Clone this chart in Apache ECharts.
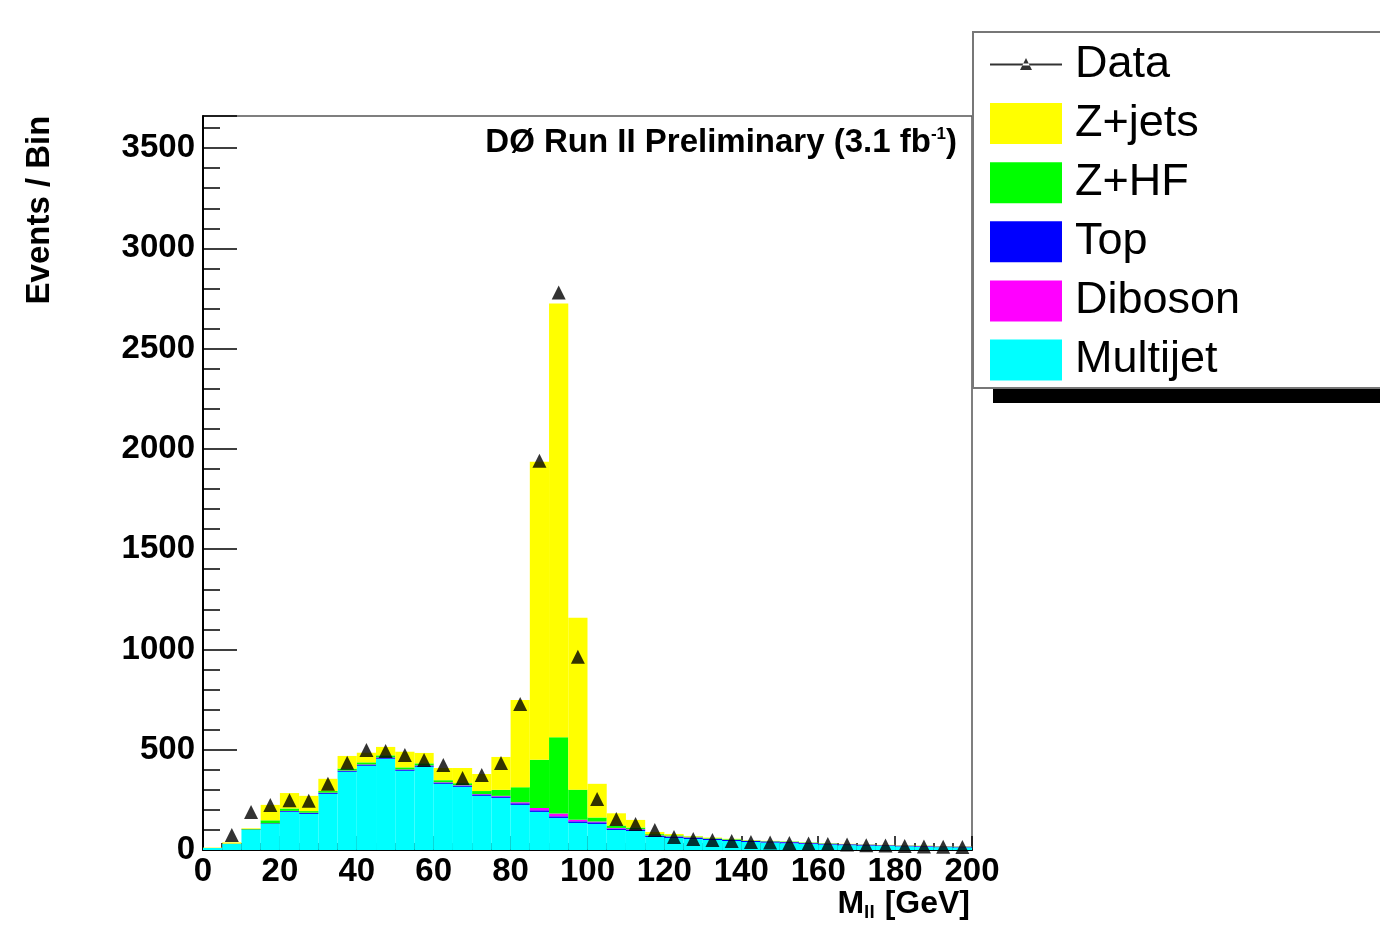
<!DOCTYPE html>
<html>
<head>
<meta charset="utf-8">
<title>M_ll</title>
<script src="https://cdn.jsdelivr.net/npm/echarts@6/dist/echarts.min.js"></script>
<style>
  html, body { margin: 0; padding: 0; background: #fff; }
  #massChart { width: 1380px; height: 927px; }
</style>
</head>
<body>
<div id="massChart"></div>
<script>
// lower edge of each 5 GeV bin
const binLow = [0, 5, 10, 15, 20, 25, 30, 35, 40, 45, 50, 55, 60, 65, 70, 75, 80, 85, 90, 95,
  100, 105, 110, 115, 120, 125, 130, 135, 140, 145, 150, 155, 160, 165, 170, 175, 180, 185, 190, 195]

// stacked backgrounds, bottom to top
const multijet = [10, 30, 100, 130, 190, 180, 280, 390, 420, 455, 395, 415, 330, 315, 270, 260, 225, 190, 160, 135,
  130, 100, 95, 65, 60, 55, 50, 45, 40, 37, 34, 30, 27, 24, 22, 20, 18, 16, 14, 13]
const topPairs = [0, 1, 2, 3, 4, 5, 5, 5, 6, 6, 6, 6, 6, 6, 7, 7, 8, 8, 8, 8,
  8, 7, 7, 6, 6, 6, 5, 5, 5, 5, 5, 4, 4, 4, 4, 3, 3, 3, 3, 3]
const diboson = [0, 0, 0, 0, 1, 1, 1, 1, 1, 1, 1, 1, 2, 2, 2, 3, 5, 12, 14, 8,
  4, 3, 2, 2, 2, 2, 1, 1, 1, 1, 1, 1, 1, 1, 1, 1, 1, 1, 1, 1]
const zhf = [0, 1, 3, 15, 12, 8, 8, 10, 10, 10, 10, 10, 10, 10, 15, 30, 75, 240, 380, 150,
  20, 12, 8, 6, 5, 4, 3, 3, 2, 2, 2, 2, 2, 1, 1, 1, 1, 1, 1, 1]
const zjets = [2, 6, 3, 77, 77, 76, 61, 63, 48, 42, 78, 52, 61, 76, 85, 164, 435, 1486, 2163, 857,
  168, 61, 38, 11, 7, 3, 3, 2, 2, 1, 1, 1, 1, 1, 1, 1, 1, 1, 1, 1]

// observed events
const dataPoints = [null, 75, 190, 225, 248, 245, 330, 435, 499, 494, 474, 449, 424, 359, 374, 434, 728, 1941, 2780, 963,
  254, 155, 130, 100, 65, 55, 50, 45, 40, 38, 35, 32, 30, 27, 24, 22, 20, 18, 16, 15]

const yMax = 3660
const font = 'Liberation Sans, Arial, Helvetica, sans-serif'

let myChart = echarts.init(document.getElementById('massChart'))

function stackBar (name, values, color) {
  return {
    name: name,
    type: 'bar',
    stack: 'mc',
    barWidth: '100%',
    data: values,
    itemStyle: { color: color, borderWidth: 0 },
    emphasis: { disabled: true },
    silent: true
  }
}

myChart.setOption({
  animation: false,
  backgroundColor: '#fff',
  textStyle: { fontFamily: font },
  title: {
    text: '{a|DØ Run II Preliminary (3.1 fb}{s|-1}{a|)}',
    right: 418,
    top: 121,
    textStyle: {
      rich: {
        a: { fontSize: 33, fontWeight: 'bold', color: '#000', fontFamily: font },
        s: { fontSize: 17, fontWeight: 'bold', color: '#000', fontFamily: font, verticalAlign: 'top', padding: [0, 0, 16, 0] }
      }
    }
  },
  grid: {
    left: 203,
    right: 408,
    top: 116,
    bottom: 77,
    show: true,
    borderColor: '#555',
    borderWidth: 1.5,
    containLabel: false
  },
  legend: {
    orient: 'vertical',
    left: 985,
    top: 37,
    itemWidth: 72,
    itemHeight: 41,
    itemGap: 14.1,
    z: 10,
    textStyle: { fontSize: 45, color: '#000', fontFamily: font, padding: [0, 0, 0, 8] },
    data: [
      { name: 'Data', icon: 'path://M0 0 M72 41 M0 19.5 L72 19.5 L72 21.5 L0 21.5 Z M30 26 L42 26 L36 14 Z' },
      { name: 'Z+jets', icon: 'rect' },
      { name: 'Z+HF', icon: 'rect' },
      { name: 'Top', icon: 'rect' },
      { name: 'Diboson', icon: 'rect' },
      { name: 'Multijet', icon: 'rect' }
    ]
  },
  graphic: [
    { // legend frame
      type: 'rect',
      z: 0,
      shape: { x: 973, y: 32, width: 420, height: 356 },
      style: { fill: '#fff', stroke: '#777', lineWidth: 2 }
    },
    { // ROOT style shadow under the legend
      type: 'rect',
      z: 0,
      shape: { x: 993, y: 389, width: 400, height: 14 },
      style: { fill: '#000' }
    },
    {
      type: 'text',
      x: 40,
      y: 210,
      rotation: Math.PI / 2,
      style: {
        text: 'Events / Bin',
        fontSize: 33,
        fontWeight: 'bold',
        fontFamily: font,
        fill: '#000',
        align: 'center',
        verticalAlign: 'middle'
      }
    },
    {
      type: 'text',
      x: 970,
      y: 887,
      style: {
        text: '{m|M}{s|ll}{m|[GeV]}',
        align: 'right',
        verticalAlign: 'top',
        rich: {
          m: { fontSize: 32, fontWeight: 'bold', fontFamily: font, fill: '#000' },
          s: { fontSize: 19, fontWeight: 'bold', fontFamily: font, fill: '#000', verticalAlign: 'bottom', padding: [16, 10, 0, 0] }
        }
      }
    }
  ],
  xAxis: [
    {
      type: 'category',
      data: binLow,
      show: false,
      boundaryGap: true
    },
    {
      type: 'value',
      position: 'bottom',
      min: 0,
      max: 200,
      interval: 20,
      axisLine: { show: true, onZero: false, lineStyle: { color: '#000', width: 2 } },
      axisTick: { show: true, inside: true, length: 14, lineStyle: { color: '#000', width: 1.5 } },
      minorTick: { show: true, splitNumber: 4, length: 7, lineStyle: { color: '#000', width: 1.5 } },
      splitLine: { show: false },
      axisLabel: { fontSize: 33, fontWeight: 'bold', color: '#000', margin: 5, fontFamily: font }
    }
  ],
  yAxis: [
    {
      type: 'value',
      min: 0,
      max: yMax,
      interval: 500,
      axisLine: { show: true, onZero: false, lineStyle: { color: '#000', width: 2 } },
      axisTick: { show: true, inside: true, length: 34, lineStyle: { color: '#000', width: 1.5 } },
      splitLine: { show: false },
      axisLabel: {
        fontSize: 33,
        fontWeight: 'bold',
        color: '#000',
        margin: 8,
        fontFamily: font,
        formatter: function (v) { return v % 500 === 0 ? String(v) : '' }
      }
    },
    { // minor ticks every 100 events
      type: 'value',
      min: 0,
      max: yMax,
      interval: 100,
      position: 'left',
      axisLine: { show: false },
      axisTick: { show: true, inside: true, length: 17, lineStyle: { color: '#000', width: 1.5 } },
      axisLabel: { show: false },
      splitLine: { show: false }
    }
  ],
  series: [
    stackBar('Multijet', multijet, '#00ffff'),
    stackBar('Top', topPairs, '#0000ff'),
    stackBar('Diboson', diboson, '#ff00ff'),
    stackBar('Z+HF', zhf, '#00ff00'),
    stackBar('Z+jets', zjets, '#ffff00'),
    {
      name: 'Data',
      type: 'scatter',
      symbol: 'triangle',
      symbolSize: 14,
      data: dataPoints,
      itemStyle: { color: '#000' },
      z: 5,
      silent: true
    }
  ]
})

window.addEventListener('resize', function () {
  myChart.resize()
})
</script>
</body>
</html>
